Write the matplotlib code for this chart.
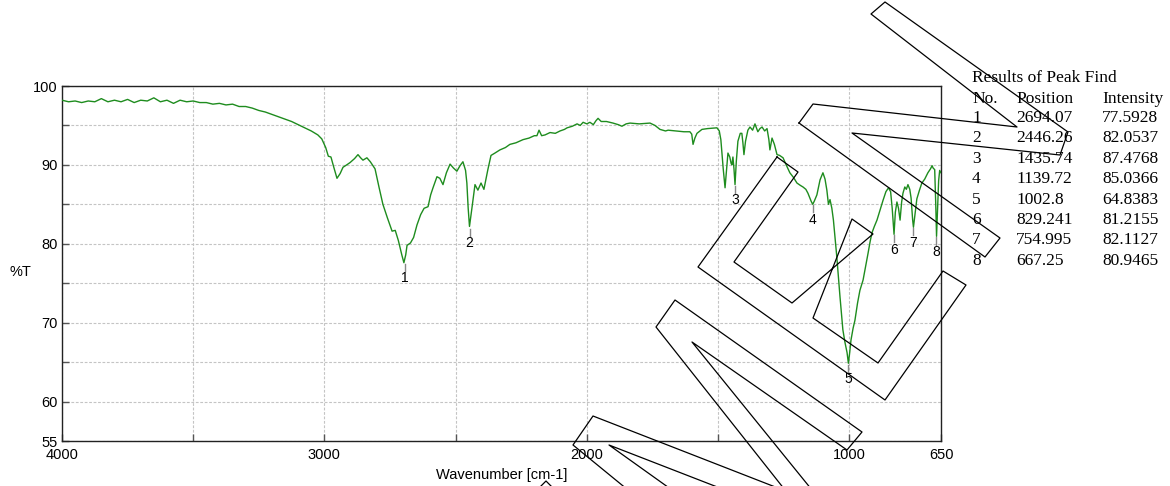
import numpy as np
import matplotlib.pyplot as plt
from matplotlib.lines import Line2D

# IR spectrum (wavenumber in cm-1, transmittance in %T)
wavenumber = [
    4000, 3975, 3950, 3925, 3900, 3875, 3850, 3825, 3800, 3775, 3750, 3725, 3700, 3675,
    3650, 3625, 3600, 3575, 3550, 3525, 3500, 3475, 3450, 3425, 3400, 3375, 3350, 3325,
    3300, 3275, 3250, 3225, 3200, 3175, 3150, 3125, 3100, 3075, 3050, 3025, 3010, 2995,
    2985, 2975, 2965, 2952, 2940, 2929, 2915, 2902, 2885, 2872, 2862, 2853, 2838, 2825,
    2807, 2792, 2777, 2760, 2742, 2730, 2718, 2705, 2697, 2690, 2685, 2672, 2660, 2647,
    2633, 2620, 2605, 2595, 2586, 2571, 2560, 2548, 2535, 2521, 2508, 2495, 2483, 2472,
    2462, 2457, 2452, 2447, 2442, 2437, 2426, 2415, 2403, 2392, 2377, 2365, 2350, 2331,
    2310, 2293, 2270, 2243, 2220, 2200, 2190, 2182, 2172, 2159, 2140, 2120, 2102, 2085,
    2075, 2055, 2037, 2025, 2014, 2000, 1988, 1975, 1965, 1957, 1945, 1925, 1900, 1880,
    1866, 1850, 1835, 1800, 1759, 1740, 1721, 1700, 1690, 1660, 1630, 1607, 1600, 1595,
    1588, 1580, 1561, 1540, 1504, 1495, 1489, 1480, 1473, 1467, 1462, 1455, 1450, 1447,
    1443, 1439, 1435, 1430, 1424, 1415, 1409, 1405, 1401, 1395, 1386, 1378, 1368, 1359,
    1348, 1340, 1332, 1322, 1313, 1306, 1302, 1294, 1285, 1275, 1265, 1252, 1240, 1226,
    1212, 1199, 1186, 1176, 1165, 1157, 1145, 1139, 1133, 1123, 1111, 1100, 1092, 1085,
    1079, 1073, 1066, 1060, 1053, 1047, 1040, 1035, 1029, 1024, 1016, 1008, 1003, 998,
    993, 985, 978, 968, 959, 947, 938, 928, 920, 913, 904, 894, 882, 871,
    860, 850, 842, 836, 829, 824, 818, 812, 806, 800, 795, 788, 782, 776,
    769, 764, 758, 755, 750, 742, 732, 723, 712, 700, 690, 684, 680, 674,
    670, 667, 663, 659, 655, 650,
]
transmittance = [
    98.2, 98.0, 98.1, 97.9, 98.1, 98.0, 98.4, 98.0, 98.2, 98.0, 98.3, 97.9, 98.2, 98.1,
    98.5, 98.0, 98.2, 97.8, 98.2, 98.0, 98.1, 97.9, 97.9, 97.7, 97.8, 97.6, 97.7, 97.4,
    97.4, 97.2, 96.9, 96.7, 96.4, 96.1, 95.8, 95.5, 95.1, 94.7, 94.3, 93.8, 93.3, 92.2,
    91.1, 91.0, 89.8, 88.3, 88.9, 89.7, 90.0, 90.3, 90.8, 91.3, 90.9, 90.6, 90.9, 90.4,
    89.5, 87.2, 85.0, 83.3, 81.6, 81.7, 80.4, 78.6, 77.6, 78.6, 79.8, 80.1, 80.8, 82.4,
    83.7, 84.5, 84.7, 86.2, 87.1, 88.5, 88.3, 87.5, 89.0, 90.1, 89.6, 89.2, 89.9, 90.4,
    89.3, 87.7, 84.5, 82.2, 83.5, 84.7, 87.5, 86.8, 87.7, 86.9, 89.4, 91.2, 91.5, 91.9,
    92.2, 92.6, 92.8, 93.2, 93.4, 93.7, 93.7, 94.4, 93.7, 93.8, 94.1, 94.0, 94.3, 94.5,
    94.7, 94.9, 95.2, 95.0, 95.4, 95.2, 95.4, 95.1, 95.6, 95.9, 95.5, 95.5, 95.3, 95.1,
    94.9, 95.2, 95.3, 95.2, 95.3, 95.0, 94.5, 94.3, 94.4, 94.3, 94.2, 94.2, 93.9, 92.6,
    93.4, 94.0, 94.5, 94.6, 94.7, 94.3, 93.2, 89.5, 87.1, 89.5, 91.5, 91.0, 90.2, 90.0,
    91.0, 89.5, 87.5, 90.5, 93.0, 94.0, 94.0, 92.8, 91.3, 93.0, 94.4, 94.8, 94.4, 95.2,
    94.2, 94.6, 94.8, 94.3, 94.6, 93.2, 91.9, 93.4, 92.6, 91.3, 91.2, 90.9, 90.0, 89.0,
    88.4, 87.7, 87.4, 87.2, 86.9, 86.4, 85.4, 85.0, 85.4, 86.2, 88.1, 89.0, 88.2, 86.8,
    85.0, 85.6, 84.5, 83.0, 80.5, 78.3, 75.3, 73.3, 71.0, 69.1, 67.5, 66.2, 64.85, 66.2,
    67.8, 69.3, 70.3, 72.5, 74.1, 75.4, 77.0, 78.8, 80.3, 81.4, 82.2, 83.0, 84.3, 85.5,
    86.6, 87.1, 86.6, 84.5, 81.2, 84.0, 85.3, 84.5, 83.0, 85.3, 86.4, 87.2, 86.9, 87.5,
    86.9, 85.8, 83.0, 82.1, 83.5, 85.7, 86.8, 87.7, 88.2, 89.0, 89.5, 89.9, 89.6, 89.4,
    85.0, 80.95, 84.5, 88.0, 89.3, 89.0,
]

# Peak find results
peak_no = [1, 2, 3, 4, 5, 6, 7, 8]
peak_pos = [2694.07, 2446.26, 1435.74, 1139.72, 1002.8, 829.241, 754.995, 667.25]
peak_int = [77.5928, 82.0537, 87.4768, 85.0366, 64.8383, 81.2155, 82.1127, 80.9465]

W, H = 1170, 486
fig = plt.figure(figsize=(W / 100, H / 100), dpi=100)
ax = fig.add_axes([62 / W, 45 / H, 879 / W, 355 / H])

ax.plot(wavenumber, transmittance, color='#1e8c1e', lw=1.0, zorder=3)

# peak markers and numbers
for n, p, t in zip(peak_no, peak_pos, peak_int):
    ax.plot([p, p], [t - 0.15, t - 1.05], color='#888888', lw=1.0, zorder=2)
    ax.text(p, t - 1.1, str(n), ha='center', va='top', fontsize=10,
            family='Liberation Sans')

ax.set_xlim(4000, 650)
ax.set_ylim(55, 100)
ax.set_xticks([4000, 3000, 2000, 1000, 650])
ax.set_xticks([3500, 2500, 1500], minor=True)
ax.set_yticks([55, 60, 70, 80, 90, 100])
ax.set_yticks([65, 75, 85, 95], minor=True)
ax.tick_params(axis='both', which='both', direction='in', length=5, width=1,
               color='#555555', labelsize=10.5)
ax.tick_params(axis='x', pad=5)
ax.tick_params(axis='y', pad=3)
ax.tick_params(top=False, right=False)
for lbl in ax.get_xticklabels() + ax.get_yticklabels():
    lbl.set_family('Liberation Sans')

ax.grid(True, which='both', color='#c4c4c4', lw=0.8, linestyle=(0, (2.5, 1.5)))
for s in ax.spines.values():
    s.set_color('#222222')
    s.set_linewidth(1.0)

ax.set_xlabel('Wavenumber [cm-1]', fontsize=10.5, family='Liberation Sans', labelpad=4)
fig.text(20 / W, 1 - 272 / H, '%T', ha='center', va='center', fontsize=10.5,
         family='Liberation Sans')

# results table
serif = 'Liberation Serif'
fs = 12.5
tx = [972 / W, 1016 / W, 1102 / W]
fig.text(tx[0], 1 - 78 / H, 'Results of Peak Find', fontsize=fs, family=serif,
         va='center')
for x, h in zip(tx, ['No.', 'Position', 'Intensity']):
    fig.text(x, 1 - 99 / H, h, fontsize=fs, family=serif, va='center')
for i, (n, p, t) in enumerate(zip(peak_no, peak_pos, peak_int)):
    y = 1 - (118 + i * 20.4) / H
    fig.text(tx[0], y, str(n), fontsize=fs, family=serif, va='center')
    fig.text(tx[1], y, f'{p:g}', fontsize=fs, family=serif, va='center')
    fig.text(tx[2], y, f'{t:g}', fontsize=fs, family=serif, va='center')

# watermark outlines (pixel coordinates of the page)
outlines = [
    [(799, 123), (813, 104), (1017, 127), (871, 14), (885, 2), (1068, 132),
     (1060, 155), (852, 133), (1000, 238), (985, 257), (799, 123)],
    [(777, 157), (798, 172), (734, 262), (792, 303), (873, 234), (852, 219),
     (813, 318), (878, 363), (943, 271), (966, 285), (885, 400), (698, 267),
     (777, 157)],
    [(785, 490), (656, 327), (675, 300), (862, 432), (847, 450), (692, 342),
     (812, 490)],
    [(783, 490), (593, 416), (573, 445), (628, 490)],
    [(672, 490), (609, 445), (725, 490)],
    [(540, 487), (546, 481), (552, 487)],
]
for pts in outlines:
    xs = [x / W for x, _ in pts]
    ys = [1 - y / H for _, y in pts]
    fig.add_artist(Line2D(xs, ys, color='black', lw=0.9, transform=fig.transFigure,
                          zorder=10))

plt.savefig('out.png', dpi=100)
